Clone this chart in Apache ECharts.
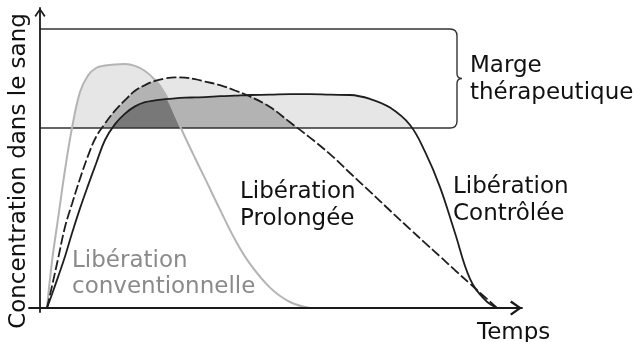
<!DOCTYPE html>
<html>
<head>
<meta charset="utf-8">
<script src="https://cdn.jsdelivr.net/npm/echarts@6/dist/echarts.min.js"></script>
<style>
  html, body { margin: 0; padding: 0; background: #fff; }
  #chart { width: 637px; height: 342px; }
</style>
</head>
<body>
<div id="chart"></div>
<script>
const temps = [0.35, 0.6, 0.9, 1.25, 1.6, 2, 2.4, 2.8, 3.25, 3.75, 4.25, 4.75, 5.25, 5.75,
    6.25, 6.75, 7.25, 7.75, 8.25, 9, 9.75, 10.5, 11.5, 12.5, 13.5, 14.5, 15.5, 16.5,
    17.5, 18.5, 19.25, 20, 20.75, 21.5, 22.25, 22.85];

// concentration dans le sang (unités arbitraires)
const conventionnelle = [0, 15.5, 29.7, 46, 60, 72, 77.5, 80, 80.8, 81.2, 81.3, 80.7, 79, 76,
    71.5, 64.4, 57, 50, 43.2, 32.8, 22.8, 14.7, 6.8, 2, 0,
    null, null, null, null, null, null, null, null, null, null, null];
const prolongee = [0, 7.3, 16.3, 27, 34.7, 43.1, 50.7, 57, 61.5, 65.8, 69.3, 72.4, 74.3, 75.7,
    76.5, 76.9, 76.8, 76.3, 75.5, 74.3, 72.5, 70.5, 67, 61.9, 56.8, 51.3, 45, 38.8,
    32.5, 26.3, 21.7, 17.2, 12.6, 8.1, 3.6, 0];
const controlee = [0, 4.6, 10.3, 17.2, 24.9, 33.2, 40.8, 48.1, 56, 61.3, 64.8, 67.2, 68.6, 69.2,
    69.6, 69.9, 70.1, 70.2, 70.3, 70.6, 70.8, 71, 71.1, 71.3, 71.3, 71.1, 71, 69.7,
    66.8, 61, 52.1, 40.3, 25, 9.7, 2.7, 0];

// marge thérapeutique
const margeBas = 60;
const margeHaut = 93;
const finMarge = 20.85;

const xMin = -0.55, xMax = 24.1;
const yMin = -1.33, yMax = 100;

const pts = arr => temps.map((t, i) => [t, arr[i]]);
const v = (arr, i) => (arr[i] == null ? 0 : arr[i]);
// zones de recouvrement (au moins deux courbes / les trois)
const minDe = (...arrs) => temps.map((t, i) => [t, Math.min(...arrs.map(a => v(a, i)))]);

const lisse = 0.4;

function remplissage(data, color, z) {
    return {
        type: "line",
        data: data,
        smooth: lisse,
        symbol: "none",
        silent: true,
        lineStyle: { width: 0, opacity: 0 },
        areaStyle: { color: color, opacity: 1 },
        z: z,
    };
}

function courbe(arr, color, type, width) {
    return {
        type: "line",
        data: pts(arr),
        smooth: lisse,
        symbol: "none",
        silent: true,
        lineStyle: { color: color, type: type, width: width },
        z: 6,
    };
}

const fleche = "path://M0,14 L10,0 L20,14 L17.5,16 L10,5 L2.5,16 Z";
const police = '23px "DejaVu Sans"';

function texte(x, y, txt, color, extra) {
    return Object.assign({
        type: "text",
        x: x,
        y: y,
        z: 100,
        silent: true,
        style: {
            text: txt,
            fill: color,
            font: police,
            textAlign: "left",
            align: "left",
            textVerticalAlign: "middle",
            verticalAlign: "middle",
        },
    }, extra || {});
}

const chart = echarts.init(document.getElementById("chart"));

chart.setOption({
    animation: false,
    backgroundColor: "#fff",
    grid: { left: 29, right: 115, top: 8, bottom: 30 },
    xAxis: {
        type: "value",
        min: xMin,
        max: xMax,
        z: 10,
        axisLine: {
            onZero: true,
            symbol: ["none", fleche],
            symbolSize: [15, 12],
            symbolOffset: [0, -6],
            lineStyle: { color: "#1a1a1a", width: 1.8 },
        },
        axisTick: { show: false },
        axisLabel: { show: false },
        splitLine: { show: false },
    },
    yAxis: {
        type: "value",
        min: yMin,
        max: yMax,
        z: 10,
        axisLine: {
            onZero: true,
            symbol: ["none", fleche],
            symbolSize: [11, 9],
            symbolOffset: [0, -4.5],
            lineStyle: { color: "#1a1a1a", width: 1.8 },
        },
        axisTick: { show: false },
        axisLabel: { show: false },
        splitLine: { show: false },
    },
    series: [
        remplissage(pts(conventionnelle), "#e6e6e6", 1),
        remplissage(pts(prolongee), "#e6e6e6", 1),
        remplissage(pts(controlee), "#e6e6e6", 1),
        remplissage(minDe(conventionnelle, prolongee), "#b3b3b3", 2),
        remplissage(minDe(prolongee, controlee), "#b3b3b3", 2),
        remplissage(minDe(conventionnelle, controlee), "#b3b3b3", 2),
        remplissage(minDe(conventionnelle, prolongee, controlee), "#787878", 3),
        {
            // masque blanc sous la marge thérapeutique
            type: "line",
            data: [[xMin, margeBas], [xMax, margeBas]],
            symbol: "none",
            silent: true,
            lineStyle: { width: 0, opacity: 0 },
            areaStyle: { color: "#fff", opacity: 1, origin: "start" },
            z: 4,
        },
        {
            // cadre + accolade de la marge
            type: "custom",
            data: [[finMarge, margeBas, margeHaut]],
            silent: true,
            z: 5,
            renderItem: function (params, api) {
                const a = api.coord([0, api.value(2)]);
                const b = api.coord([api.value(0), api.value(1)]);
                const x0 = a[0], yT = a[1], xR = b[0], yB = b[1];
                const yM = (yT + yB) / 2, r = 7, r2 = 5, tip = 5;
                const d = "M" + x0 + " " + yT + " L" + (xR - r) + " " + yT +
                    " Q" + xR + " " + yT + " " + xR + " " + (yT + r) +
                    " L" + xR + " " + (yM - r2) +
                    " Q" + xR + " " + yM + " " + (xR + tip) + " " + yM +
                    " Q" + xR + " " + yM + " " + xR + " " + (yM + r2) +
                    " L" + xR + " " + (yB - r) +
                    " Q" + xR + " " + yB + " " + (xR - r) + " " + yB +
                    " L" + x0 + " " + yB;
                return {
                    type: "path",
                    shape: { pathData: d },
                    style: { fill: null, stroke: "#333", lineWidth: 1.4 },
                };
            },
        },
        courbe(conventionnelle, "#b4b4b4", "solid", 2),
        courbe(prolongee, "#1e1e1e", [10, 3], 1.8),
        courbe(controlee, "#1e1e1e", "solid", 1.8),
    ],
    graphic: [
        texte(19, 171, "Concentration dans le sang", "#111", {
            rotation: Math.PI / 2,
            style: {
                text: "Concentration dans le sang", fill: "#111", font: police,
                textAlign: "center", align: "center",
                textVerticalAlign: "middle", verticalAlign: "middle",
            },
        }),
        texte(477, 333, "Temps", "#111"),
        texte(470, 66, "Marge", "#111"),
        texte(470, 93, "thérapeutique", "#111"),
        texte(240, 192, "Libération", "#111"),
        texte(240, 219, "Prolongée", "#111"),
        texte(453, 187, "Libération", "#111"),
        texte(453, 214, "Contrôlée", "#111"),
        texte(72, 261, "Libération", "#8a8a8a"),
        texte(72, 287, "conventionnelle", "#8a8a8a"),
    ],
});
</script>
</body>
</html>
